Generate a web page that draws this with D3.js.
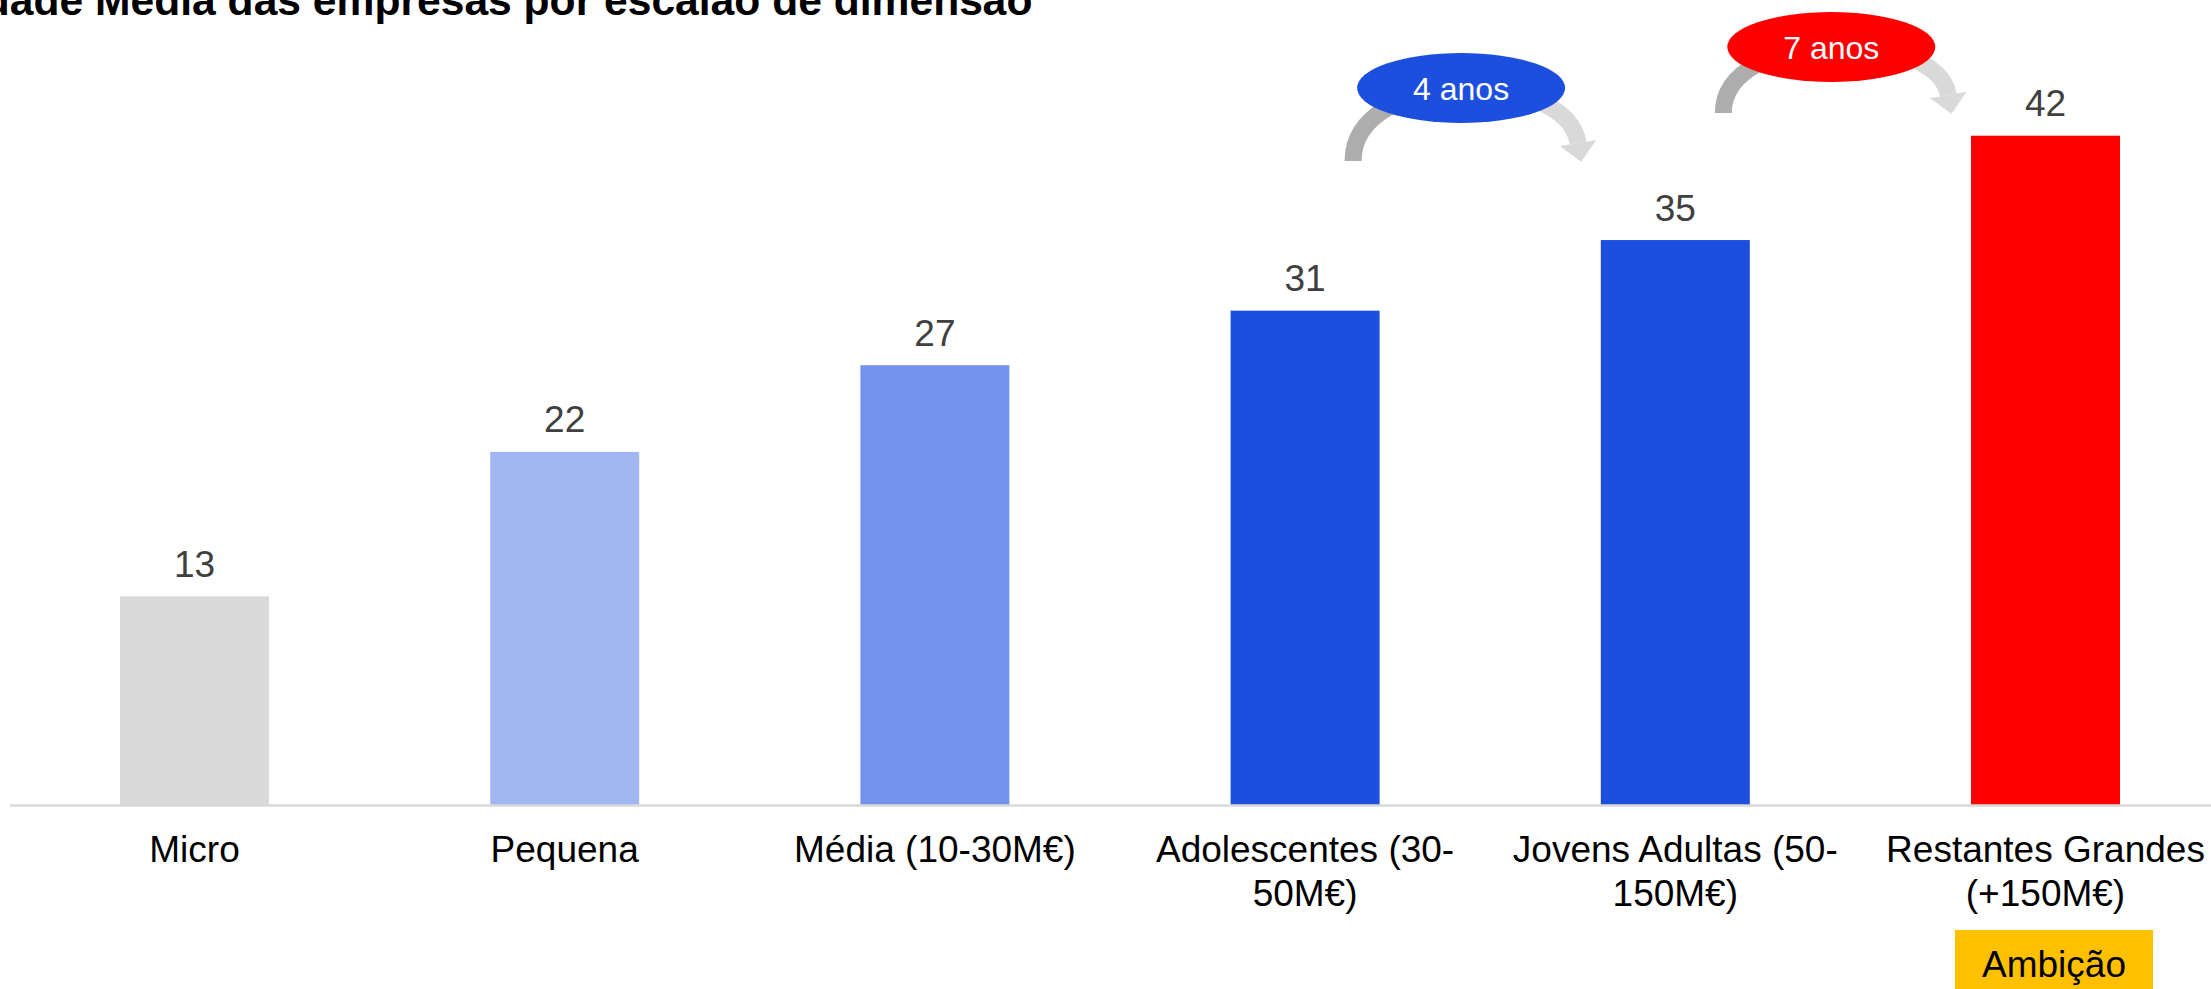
<!DOCTYPE html>
<html>
<head>
<meta charset="utf-8">
<script src="https://cdn.jsdelivr.net/npm/d3@7"></script>
<style>
  html, body { margin: 0; padding: 0; background: #ffffff; overflow: hidden; }
  svg { display: block; font-family: "Liberation Sans", Arial, sans-serif; }
</style>
</head>
<body>
<svg id="chart" width="2211" height="989"></svg>
<script>
// ---- data ----
const title = "Idade Média das empresas por escalão de dimensão";
const categories = ["Micro", "Pequena", "Média (10-30M€)", "Adolescentes (30-50M€)", "Jovens Adultas (50-150M€)", "Restantes Grandes (+150M€)"];
const categoryLines = [["Micro"], ["Pequena"], ["Média (10-30M€)"], ["Adolescentes (30-", "50M€)"], ["Jovens Adultas (50-", "150M€)"], ["Restantes Grandes", "(+150M€)"]];
const values = [13.0, 22.0, 27.4, 30.8, 35.2, 41.7];
const valueLabels = ["13", "22", "27", "31", "35", "42"];
const barColors = ["#d9d9d9", "#a2b6f2", "#7592ec", "#1d4fdf", "#1d4fdf", "#ff0000"];
const annotations = [
  { from: 3, to: 4, label: "4 anos", color: "#1d4fdf" },
  { from: 4, to: 5, label: "7 anos", color: "#ff0000" }
];
const ambitionLabel = "Ambição";

// ---- layout ----
const svg = d3.select("#chart");
const baseY = 805;
const x = d3.scaleBand().domain(categories).range([9.4, 2230.6]).paddingInner(0.5975).paddingOuter(0.29875);
const y = d3.scaleLinear().domain([0, 50]).range([baseY, baseY - 50 * 16.05]);
const cx = c => x(c) + x.bandwidth() / 2;

// title (clipped at top-left as in reference)
svg.append("text")
  .attr("x", -28).attr("y", 15)
  .attr("font-size", 42.6).attr("font-weight", "bold").attr("fill", "#000")
  .text(title);

// bars
svg.append("g").selectAll("rect").data(categories).join("rect")
  .attr("x", d => x(d))
  .attr("width", x.bandwidth())
  .attr("y", (d, i) => y(values[i]))
  .attr("height", (d, i) => baseY - y(values[i]))
  .attr("fill", (d, i) => barColors[i]);

// value labels
svg.append("g").selectAll("text").data(categories).join("text")
  .attr("x", d => cx(d))
  .attr("y", (d, i) => y(values[i]) - 19.5)
  .attr("text-anchor", "middle")
  .attr("font-size", 37).attr("fill", "#404040")
  .text((d, i) => valueLabels[i]);

// x axis
const axis = svg.append("g").attr("transform", `translate(0,${baseY})`)
  .call(d3.axisBottom(x).tickSize(0).tickFormat(""));
axis.select(".domain").attr("stroke", "#d9d9d9").attr("stroke-width", 2.5);

const labels = svg.append("g").selectAll("text").data(categories).join("text")
  .attr("text-anchor", "middle")
  .attr("font-size", 37).attr("fill", "#000");
labels.each(function(d, i) {
  const t = d3.select(this);
  categoryLines[i].forEach((ln, j) => {
    t.append("tspan").attr("x", cx(d)).attr("y", 862 + j * 44).text(ln);
  });
});

// ambition tag
const lastC = categories[categories.length - 1];
const ambX = cx(lastC) + 8.5;
svg.append("rect").attr("x", ambX - 99).attr("y", 930).attr("width", 198).attr("height", 70).attr("fill", "#ffc000");
svg.append("text").attr("x", ambX).attr("y", 977).attr("text-anchor", "middle")
  .attr("font-size", 37).attr("fill", "#000").text(ambitionLabel);

// curved arrows + ellipses
const defs = svg.append("defs");
const ellipseY = [88, 47];
const arcH = [73, 66];
annotations.forEach((a, k) => {
  const ex = cx(categories[a.from]) + 156;
  const ey = ellipseY[k];
  const h = arcH[k];
  const gid = "grad" + k;
  const g = defs.append("linearGradient").attr("id", gid)
    .attr("gradientUnits", "userSpaceOnUse")
    .attr("x1", ex - 70).attr("y1", 0).attr("x2", ex + 70).attr("y2", 0);
  g.append("stop").attr("offset", 0).attr("stop-color", "#adadad");
  g.append("stop").attr("offset", 1).attr("stop-color", "#d9d9d9");

  const sx = ex - 108, sy = ey + h;
  const endX = ex + 117, endY = ey + h - 18;
  const c1 = [sx, ey - 20], c2 = [ex + 105, ey - 20];
  const p = d3.path();
  p.moveTo(sx, sy);
  p.bezierCurveTo(c1[0], c1[1], c2[0], c2[1], endX, endY);
  svg.append("path").attr("d", p.toString())
    .attr("fill", "none").attr("stroke", `url(#${gid})`).attr("stroke-width", 17);

  // arrowhead
  let dx = endX - c2[0], dy = endY - c2[1];
  const len = Math.hypot(dx, dy); dx /= len; dy /= len;
  const px = -dy, py = dx;
  const tip = [endX + dx * 19, endY + dy * 19];
  const b1 = [endX + px * 18.5, endY + py * 18.5];
  const b2 = [endX - px * 18.5, endY - py * 18.5];
  svg.append("path").attr("d", `M${b1[0]},${b1[1]}L${tip[0]},${tip[1]}L${b2[0]},${b2[1]}Z`)
    .attr("fill", "#d9d9d9");

  svg.append("ellipse").attr("cx", ex).attr("cy", ey).attr("rx", 104).attr("ry", 35)
    .attr("fill", a.color);
  svg.append("text").attr("x", ex).attr("y", ey + 12).attr("text-anchor", "middle")
    .attr("font-size", 32).attr("fill", "#fff").text(a.label);
});
</script>
</body>
</html>
